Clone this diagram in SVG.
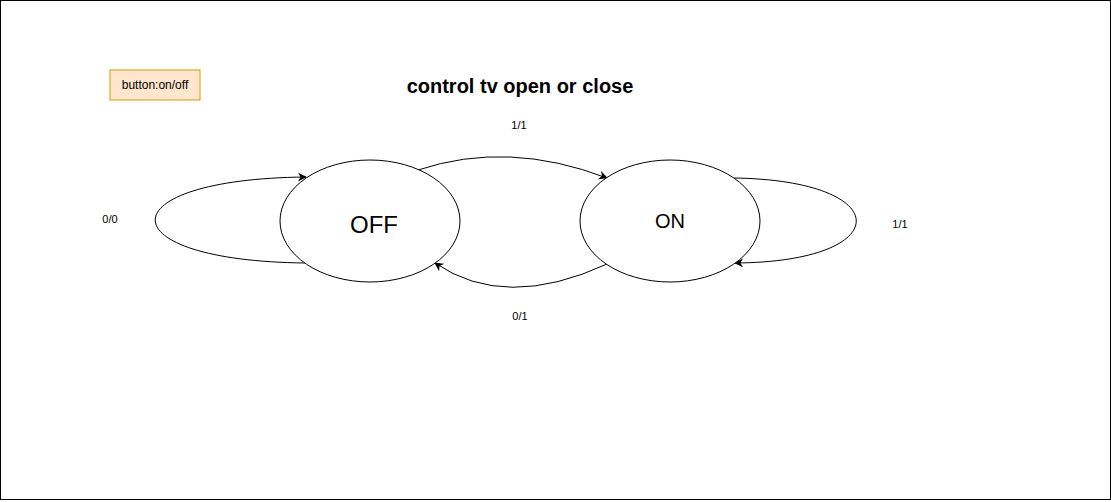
<svg xmlns="http://www.w3.org/2000/svg" width="1111" height="502" viewBox="0 0 1111 502">
<style>
.state{fill:#ffffff;stroke:#000000;stroke-width:1}
.edge{fill:none;stroke:#000000;stroke-width:1;marker-end:url(#arrow)}
.lbl{font-family:"Liberation Sans",Arial,sans-serif;font-size:11px;fill:#000000;text-anchor:middle}
.big{font-family:"Liberation Sans",Arial,sans-serif;fill:#000000;text-anchor:middle}
</style>
<defs>
<marker id="arrow" viewBox="0 0 10 10" refX="9" refY="5" markerWidth="9" markerHeight="9" orient="auto" markerUnits="userSpaceOnUse">
<path d="M0,0 L10,5 L0,10 L3,5 Z" fill="#000000"/>
</marker>
</defs>
<rect x="0.5" y="0.5" width="1110" height="499" fill="#ffffff" stroke="#000000"/>
<g id="legend">
<rect x="110" y="70" width="90" height="30" fill="#ffe6cc" stroke="#d79b00"/>
<text x="155" y="89" class="big" font-size="12">button:on/off</text>
</g>
<g id="title">
<text x="520" y="93" class="big" font-size="20" font-weight="bold">control tv open or close</text>
</g>
<g id="connectors">
<path class="edge" d="M306,263 C105,261 105,179 306,177"/>
<path class="edge" d="M733,178 C897,180 897,262 735,263"/>
<path class="edge" d="M418,170 Q508,140 607,178"/>
<path class="edge" d="M607,264 Q505,311 435,263"/>
<text x="519" y="129" class="lbl">1/1</text>
<text x="520" y="320" class="lbl">0/1</text>
<text x="110" y="223" class="lbl">0/0</text>
<text x="900" y="228" class="lbl">1/1</text>
</g>
<g id="off">
<ellipse class="state" cx="370" cy="221" rx="90" ry="61"/>
<text x="374" y="233" class="big" font-size="24">OFF</text>
</g>
<g id="on">
<ellipse class="state" cx="670" cy="221" rx="90" ry="61"/>
<text x="670" y="228" class="big" font-size="20">ON</text>
</g>
</svg>
